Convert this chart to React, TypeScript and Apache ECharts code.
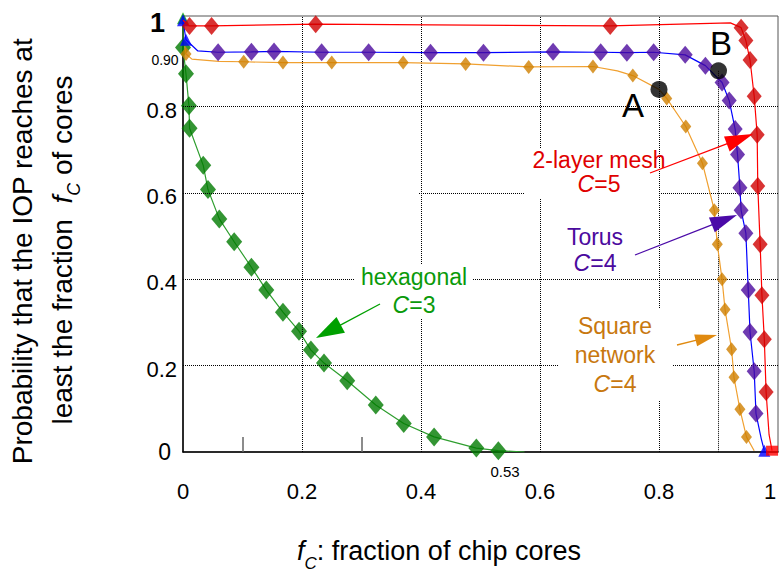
import React, { useEffect, useRef } from "react";
import * as echarts from "echarts";

// ---- data (fraction of chip cores, probability) ----
const xTickValues = [0, 0.2, 0.4, 0.6, 0.8, 1];
const gridValues = [0.2, 0.4, 0.6, 0.8];
const minorTickValues = [0.1, 0.3];

// hexagonal network, C=3
const hexMarkers: [number, number][] = [
  [0.0, 0.937], [0.005, 0.876], [0.01, 0.802], [0.011, 0.75], [0.034, 0.664],
  [0.042, 0.608], [0.061, 0.54], [0.086, 0.487], [0.115, 0.428], [0.14, 0.375],
  [0.168, 0.324], [0.195, 0.28], [0.215, 0.236], [0.237, 0.206], [0.276, 0.165],
  [0.324, 0.109], [0.371, 0.066], [0.422, 0.035], [0.493, 0.009], [0.53, 0.003],
];
const hexStart: [number, number] = [0, 1.005];
const hexEnd: [number, number] = [0.574, 0];

// square network, C=4
const squareMarkers: [number, number][] = [
  [0.005, 0.922], [0.102, 0.904], [0.168, 0.902], [0.25, 0.902], [0.37, 0.902],
  [0.475, 0.899], [0.581, 0.892], [0.689, 0.893], [0.756, 0.872], [0.813, 0.819],
  [0.845, 0.754], [0.873, 0.669], [0.893, 0.56], [0.898, 0.481], [0.906, 0.4],
  [0.911, 0.33], [0.922, 0.238], [0.926, 0.173], [0.936, 0.099], [0.947, 0.035],
];
const squarePath: [number, number][] = [
  [0.003, 0.94], [0.005, 0.922], [0.015, 0.91], [0.06, 0.905], [0.102, 0.904],
  [0.168, 0.902], [0.25, 0.902], [0.37, 0.902], [0.475, 0.899], [0.581, 0.892],
  [0.689, 0.893], [0.73, 0.883], [0.756, 0.872], [0.8, 0.84], [0.813, 0.819],
  [0.845, 0.754], [0.873, 0.669], [0.893, 0.56], [0.898, 0.481], [0.906, 0.4],
  [0.911, 0.33], [0.922, 0.238], [0.926, 0.173], [0.936, 0.099], [0.947, 0.035],
  [0.96, 0.003],
];

// torus, C=4
const torusMarkers: [number, number][] = [
  [0.059, 0.926], [0.115, 0.927], [0.153, 0.928], [0.233, 0.926], [0.312, 0.926],
  [0.416, 0.925], [0.505, 0.925], [0.622, 0.927], [0.702, 0.926], [0.746, 0.925],
  [0.791, 0.926], [0.844, 0.92], [0.878, 0.895], [0.906, 0.856], [0.918, 0.814],
  [0.928, 0.748], [0.932, 0.689], [0.936, 0.612], [0.938, 0.56], [0.946, 0.507],
  [0.95, 0.375], [0.953, 0.278], [0.96, 0.187], [0.963, 0.089],
];
const torusHead: [number, number][] = [[0, 1.0], [0.005, 0.955], [0.025, 0.929]];
const torusTail: [number, number][] = [[0.972, 0.03], [0.977, 0.003]];
const torusTriangles: [number, number][] = [[0, 1.0], [0.005, 0.955], [0.977, 0.003]];

// 2-layer mesh, C=5
const meshMarkers: [number, number][] = [
  [0.011, 0.987], [0.048, 0.987], [0.223, 0.991], [0.718, 0.987], [0.938, 0.983],
  [0.946, 0.953], [0.953, 0.908], [0.96, 0.824], [0.965, 0.735], [0.966, 0.616],
  [0.97, 0.481], [0.973, 0.363], [0.977, 0.261], [0.98, 0.139],
];
const meshPath: [number, number][] = [
  [0, 1.0], [0.011, 0.987], [0.048, 0.987], [0.223, 0.991], [0.718, 0.987],
  [0.92, 0.994], [0.938, 0.983], [0.946, 0.953], [0.953, 0.908], [0.96, 0.824],
  [0.965, 0.735], [0.966, 0.616], [0.97, 0.481], [0.973, 0.363], [0.977, 0.261],
  [0.98, 0.139], [0.985, 0.04], [0.99, 0.003],
];
const meshEnd: [number, number] = [0.99, 0.003];

// operating points A and B
const pointA: [number, number] = [0.8, 0.84];
const pointB: [number, number] = [0.9, 0.883];

const FONT = '"Liberation Sans", Arial, Helvetica, sans-serif';

const GREEN_LINE = "#2f9e2f";
const GREEN_MARK = "#007a00";
const GREEN_TEXT = "#0a9a0a";
const ORANGE_LINE = "#f0a030";
const ORANGE_MARK = "#d07f00";
const ORANGE_TEXT = "#c8780f";
const BLUE_LINE = "#0000ff";
const PURPLE_MARK = "#4b0a9e";
const PURPLE_TEXT = "#4b0a9e";
const RED_LINE = "#ff0000";
const RED_MARK = "#d00000";
const RED_TEXT = "#e00000";

let measureCtx: CanvasRenderingContext2D | null = null;
function textWidth(text: string, font: string): number {
  if (!measureCtx) measureCtx = document.createElement("canvas").getContext("2d");
  if (!measureCtx) return text.length * 10;
  measureCtx.font = font;
  return measureCtx.measureText(text).width;
}

type Run = { t: string; size: number; italic?: boolean; dy?: number };

// lays out text runs (with subscripts) left to right, centred on x=0
function runs(parts: Run[], color: string, center = true) {
  let cursor = 0;
  const items = parts.map((p) => {
    const font = `${p.italic ? "italic " : ""}${p.size}px ${FONT}`;
    const w = textWidth(p.t, font);
    const el = { x: cursor, y: p.dy || 0, text: p.t, font };
    cursor += w;
    return el;
  });
  const shift = center ? -cursor / 2 : 0;
  return items.map((it) => ({
    type: "text",
    x: it.x + shift,
    y: it.y,
    style: { text: it.text, font: it.font, fill: color, align: "left", verticalAlign: "middle" },
  }));
}

function arrow(tail: [number, number], tip: [number, number], color: string, len: number, half: number, width = 1.3) {
  const dx = tip[0] - tail[0];
  const dy = tip[1] - tail[1];
  const d = Math.hypot(dx, dy);
  const ux = dx / d;
  const uy = dy / d;
  const bx = tip[0] - ux * len;
  const by = tip[1] - uy * len;
  return [
    {
      type: "line",
      z: 120,
      shape: { x1: tail[0], y1: tail[1], x2: bx + ux * 2, y2: by + uy * 2 },
      style: { stroke: color, lineWidth: width },
    },
    {
      type: "polygon",
      z: 120,
      shape: {
        points: [
          [tip[0], tip[1]],
          [bx - uy * half, by + ux * half],
          [bx + uy * half, by - ux * half],
        ],
      },
      style: { fill: color },
    },
  ];
}

const LABEL_SIZE = 23;

function label(x: number, y: number, text: string, color: string, lineHeight: number) {
  return {
    type: "text",
    z: 110,
    x,
    y,
    style: {
      text,
      fill: color,
      font: `${LABEL_SIZE}px ${FONT}`,
      align: "center",
      verticalAlign: "middle",
      lineHeight,
      rich: {
        n: { fontSize: LABEL_SIZE, fontFamily: FONT, fill: color, lineHeight },
        i: { fontSize: LABEL_SIZE, fontFamily: FONT, fontStyle: "italic", fill: color, lineHeight },
      },
    },
  };
}

// white patch that keeps the dotted grid out from under a note
function patch(x: number, y: number, w: number, h: number) {
  return { type: "rect", z: 100, shape: { x, y, width: w, height: h }, style: { fill: "#fff" } };
}

function diamond(color: string, size: number[]) {
  return { symbol: "diamond", symbolSize: size, itemStyle: { color } };
}

export default function App() {
  const ref = useRef<HTMLDivElement>(null);

  useEffect(() => {
    document.body.style.margin = "0";
    if (!ref.current) return;
    const chart = echarts.init(ref.current, undefined, { renderer: "svg" });

    const dotted = { color: "#000", type: "dotted" as const, width: 1 };

    const option: any = {
      animation: false,
      backgroundColor: "#ffffff",
      grid: {
        left: 183,
        right: 1,
        top: 16,
        bottom: 121,
        show: true,
        borderColor: "#555",
        borderWidth: 1,
        containLabel: false,
        outerBoundsMode: "none",
      },
      xAxis: {
        type: "value",
        min: 0,
        max: 1,
        interval: 0.2,
        axisLine: { show: true, onZero: false, lineStyle: { color: "#000", width: 1.5 } },
        axisTick: { show: false },
        splitLine: { show: false },
        axisLabel: {
          margin: 28,
          fontSize: 22,
          fontFamily: FONT,
          color: "#000",
          formatter: (v: number) => {
            if (!xTickValues.some((t) => Math.abs(t - v) < 1e-9)) return "";
            if (v === 0) return "{n|0}";
            if (v === 1) return "{e|1}";
            return "{n|" + v.toFixed(1) + "}";
          },
          rich: {
            n: { fontSize: 22, fontFamily: FONT, color: "#000" },
            e: { fontSize: 22, fontFamily: FONT, color: "#000", padding: [0, 16, 0, 0] },
          },
        },
      },
      yAxis: {
        type: "value",
        min: 0,
        max: 1.01,
        interval: 0.2,
        axisLine: { show: true, onZero: false, lineStyle: { color: "#000", width: 1.5 } },
        axisTick: { show: false },
        splitLine: { show: false },
        axisLabel: {
          margin: 6,
          fontFamily: FONT,
          color: "#000",
          formatter: (v: number) => {
            if (v > 1.001) return "";
            if (v === 0) return "{z|0}";
            if (Math.abs(v - 1) < 1e-9) return "{o|1}";
            return "{n|" + v.toFixed(1) + "}";
          },
          rich: {
            n: { fontSize: 22, fontFamily: FONT, color: "#000", padding: [7, 0, 0, 0] },
            z: { fontSize: 23, fontFamily: FONT, color: "#000", padding: [0, 6, 0, 0] },
            o: { fontSize: 27, fontFamily: FONT, fontWeight: "bold", color: "#000", padding: [6, 12, 0, 0] },
          },
        },
      },
      series: [
        {
          // dotted grid, minor ticks and the B drop line
          type: "line",
          data: [],
          silent: true,
          z: 1,
          markLine: {
            silent: true,
            symbol: ["none", "none"],
            label: { show: false },
            lineStyle: dotted,
            data: [
              ...gridValues.map((v) => ({ xAxis: v })),
              ...gridValues.map((v) => ({ yAxis: v })),
              [{ coord: pointB }, { coord: [pointB[0], 0] }],
              ...minorTickValues.map((v) => [
                { coord: [v, 0], lineStyle: { type: "solid", color: "#666", width: 1.5 } },
                { coord: [v, 0.035] },
              ]),
            ],
          },
        },
        {
          name: "hexagonal",
          type: "line",
          data: [hexStart, ...hexMarkers, hexEnd],
          showSymbol: false,
          lineStyle: { color: GREEN_LINE, width: 1.2 },
          z: 3,
        },
        { type: "scatter", data: hexMarkers, ...diamond(GREEN_MARK, [16, 19]), z: 4 },
        { type: "scatter", data: [hexStart], symbol: "triangle", symbolSize: 12, itemStyle: { color: "#00a000" }, z: 4 },
        {
          name: "square",
          type: "line",
          data: squarePath,
          showSymbol: false,
          lineStyle: { color: ORANGE_LINE, width: 1.2 },
          z: 5,
        },
        { type: "scatter", data: squareMarkers, ...diamond(ORANGE_MARK, [11, 14]), z: 6 },
        {
          name: "torus",
          type: "line",
          data: [...torusHead, ...torusMarkers, ...torusTail],
          showSymbol: false,
          lineStyle: { color: BLUE_LINE, width: 1.2 },
          z: 7,
        },
        { type: "scatter", data: torusMarkers, ...diamond(PURPLE_MARK, [15, 18]), z: 8 },
        { type: "scatter", data: torusTriangles, symbol: "triangle", symbolSize: 12, itemStyle: { color: "#0000ff" }, z: 8 },
        {
          name: "mesh",
          type: "line",
          data: meshPath,
          showSymbol: false,
          lineStyle: { color: RED_LINE, width: 1.2 },
          z: 9,
        },
        { type: "scatter", data: meshMarkers, ...diamond(RED_MARK, [15, 18]), z: 10 },
        { type: "scatter", data: [meshEnd], symbol: "rect", symbolSize: [12, 10], itemStyle: { color: "#ff0000" }, z: 10 },
        { type: "scatter", data: [pointA, pointB], symbol: "circle", symbolSize: 17, itemStyle: { color: "#000" }, z: 11 },
      ],
      graphic: [
        patch(305, 112, 113, 102),
        patch(355, 265, 117, 53),
        patch(525, 148, 133, 50),
        patch(560, 224, 70, 52),
        patch(558, 308, 114, 92),
        {
          type: "group",
          z: 101,
          x: 308,
          y: 0,
          children: [
            ...runs([{ t: "p", size: 27, italic: true, dy: 132 }], "#000", false),
            { type: "text", x: 10, y: 152, style: { text: "f,N", font: `italic 15px ${FONT}`, fill: "#000", verticalAlign: "middle" } },
            { type: "text", x: 33, y: 133, style: { text: "=0", font: `23px ${FONT}`, fill: "#000", verticalAlign: "middle" } },
            ...runs([{ t: "p", size: 27, italic: true, dy: 184 }], "#000", false),
            { type: "text", x: 8, y: 204, style: { text: "f,L", font: `italic 15px ${FONT}`, fill: "#000", verticalAlign: "middle" } },
            { type: "text", x: 32, y: 185, style: { text: "=0.4", font: `23px ${FONT}`, fill: "#000", verticalAlign: "middle" } },
          ],
        },
        label(414, 291, "{n|hexagonal}\n{i|C}{n|=3}", GREEN_TEXT, 28),
        label(599, 172, "{n|2-layer mesh}\n{i|C}{n|=5}", RED_TEXT, 24),
        label(595, 250, "{n|Torus}\n{i|C}{n|=4}", PURPLE_TEXT, 26),
        label(615, 355, "{n|Square}\n{n|network}\n{i|C}{n|=4}", ORANGE_TEXT, 29),
        ...arrow([380, 304], [316, 338], "#00a000", 28, 9),
        ...arrow([650, 173], [753, 134], "#ff0000", 28, 8),
        ...arrow([635, 255], [737, 215], "#4b0aa8", 27, 8),
        ...arrow([677, 345], [717, 335], "#e08a10", 22, 6),
        { type: "text", z: 120, x: 633, y: 105, style: { text: "A", font: `33px ${FONT}`, fill: "#000", align: "center", verticalAlign: "middle" } },
        { type: "text", z: 120, x: 721, y: 43, style: { text: "B", font: `33px ${FONT}`, fill: "#000", align: "center", verticalAlign: "middle" } },
        { type: "text", z: 120, x: 505, y: 471, style: { text: "0.53", font: `15px ${FONT}`, fill: "#000", align: "center", verticalAlign: "middle" } },
        { type: "text", z: 120, x: 165, y: 60, style: { text: "0.90", font: `14px ${FONT}`, fill: "#000", align: "center", verticalAlign: "middle" } },
        // x axis title
        {
          type: "group",
          x: 439,
          y: 551,
          children: runs(
            [
              { t: "f", size: 27, italic: true },
              { t: "C", size: 17, italic: true, dy: 12 },
              { t: ": fraction of chip cores", size: 27 },
            ],
            "#000"
          ),
        },
        // y axis title, two rotated lines
        {
          type: "group",
          x: 22,
          y: 251,
          rotation: Math.PI / 2,
          children: runs([{ t: "Probability that the IOP reaches at", size: 28 }], "#000"),
        },
        {
          type: "group",
          x: 62,
          y: 250,
          rotation: Math.PI / 2,
          children: runs(
            [
              { t: "least the fraction  ", size: 28 },
              { t: "f", size: 28, italic: true },
              { t: "C", size: 18, italic: true, dy: 12 },
              { t: " of cores", size: 28 },
            ],
            "#000"
          ),
        },
      ],
    };

    chart.setOption(option);
    return () => chart.dispose();
  }, []);

  return <div ref={ref} style={{ width: 779, height: 573, position: "absolute", left: 0, top: 0 }} />;
}
